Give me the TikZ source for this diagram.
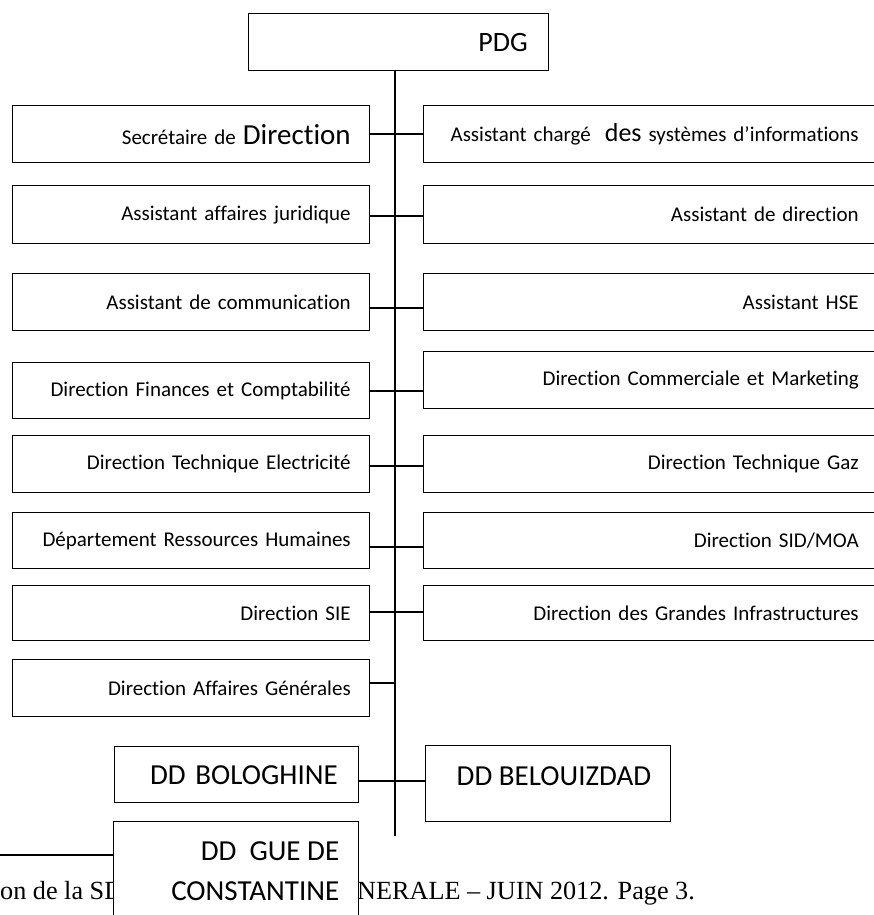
\documentclass[tikz,border=0pt]{standalone}
\usepackage{fontspec}
\setmainfont{Carlito}[Ligatures=CommonOff]
\newfontfamily\footfont{Liberation Serif}
\newcommand\txs{\fontsize{21}{24}\selectfont}
\newcommand\txbig{\fontsize{29}{40}\selectfont}
\begin{document}
\begin{tikzpicture}[x=1pt,y=-1pt,
  box/.style={draw, line width=1.4pt, inner ysep=0pt, anchor=north west, align=right, fill=white},
  lbox/.style={box, minimum width=357pt, minimum height=57pt, text width=319pt, inner xsep=19pt, font=\txs},
  rbox/.style={box, minimum width=457pt, minimum height=57pt, text width=413pt, inner xsep=22pt, font=\txs},
  conn/.style={line width=1.3pt},
  foot/.style={inner sep=0pt, font=\footfont\fontsize{26.2}{28}\selectfont}]
\fill[white] (0,0) rectangle (873,915);
\useasboundingbox (0,0) rectangle (873,915);
% connector coordinates
\coordinate (c1) at (395,134);
\coordinate (c2) at (395,216);
\coordinate (c3) at (395,308);
\coordinate (c4) at (395,391);
\coordinate (c5) at (395,466);
\coordinate (c6) at (395,547);
\coordinate (c7) at (395,612);
\coordinate (c8) at (395,683);
\coordinate (c9) at (395,781);
\coordinate (vend) at (395,836);
\coordinate (fl) at (0,855);
% top
\node[box, minimum width=300pt, minimum height=57pt, text width=258pt, inner xsep=21pt, font=\fontsize{28}{30}\selectfont] (P) at (248,13) {PDG};
% left column
\node[lbox] (L1) at (12,105) {Secrétaire de {\fontsize{29}{30}\selectfont Direction}};
\node[lbox, minimum height=58pt] (L2) at (12,185) {Assistant affaires juridique};
\node[lbox] (L3) at (12,273) {Assistant de communication};
\node[lbox, minimum height=56pt] (L4) at (12,362) {Direction Finances et Comptabilité};
\node[lbox] (L5) at (12,435) {Direction Technique Electricité};
\node[lbox, minimum height=56pt] (L6) at (12,512) {Département Ressources Humaines};
\node[lbox, minimum height=55pt] (L7) at (12,585) {Direction SIE};
\node[lbox] (L8) at (12,659) {Direction Affaires Générales};
% right column
\node[rbox] (R1) at (423,105) {Assistant chargé\ \ {\fontsize{26}{28}\selectfont des} systèmes d’informations};
\node[rbox, minimum height=58pt] (R2) at (423,185) {Assistant de direction};
\node[rbox] (R3) at (423,273) {Assistant HSE};
\node[rbox] (R4) at (423,351) {Direction Commerciale et Marketing};
\node[rbox] (R5) at (423,435) {Direction Technique Gaz};
\node[rbox, minimum height=56pt] (R6) at (423,512) {Direction SID/MOA};
\node[rbox, minimum height=55pt] (R7) at (423,585) {Direction des Grandes Infrastructures};
% DD row
\node[box, minimum width=244pt, minimum height=56pt, text width=202pt, inner xsep=21pt, font=\txbig] (B1) at (114,746) {DD BOLOGHINE};
\node[box, minimum width=245pt, minimum height=76pt] (B2) at (425,745) {};
\node[inner sep=0pt, anchor=east, font=\txbig] (B2t) at ([xshift=-20pt,yshift=8pt]B2.east) {DD BELOUIZDAD};
% footer
\node[foot, anchor=base west] (F1) at (0,899) {on de la SD};
\node[foot, anchor=base west] (F2) at (357,899) {NERALE – JUIN 2012. Page 3.};
\draw[line width=2pt] (fl) -- (113,855);
\node[box, minimum width=245pt, minimum height=130pt] (G) at (113,821) {};
\node[inner sep=0pt, anchor=north east, align=right, font=\txbig] (Gt) at ([xshift=-20pt,yshift=-20pt]G.north east) {DD\ \ GUE DE\\CONSTANTINE};
% connectors
\draw[conn] (P.south -| c1) -- (vend);
\draw[conn] (L1.east |- c1) -- (R1.west |- c1);
\draw[conn] (L2.east |- c2) -- (R2.west |- c2);
\draw[conn] (L3.east |- c3) -- (R3.west |- c3);
\draw[conn] (L4.east |- c4) -- (R4.west |- c4);
\draw[conn] (L5.east |- c5) -- (R5.west |- c5);
\draw[conn] (L6.east |- c6) -- (R6.west |- c6);
\draw[conn] (L7.east |- c7) -- (R7.west |- c7);
\draw[conn] (L8.east |- c8) -- (c8);
\draw[conn] (B1.east |- c9) -- (B2.west |- c9);
\end{tikzpicture}
\end{document}
